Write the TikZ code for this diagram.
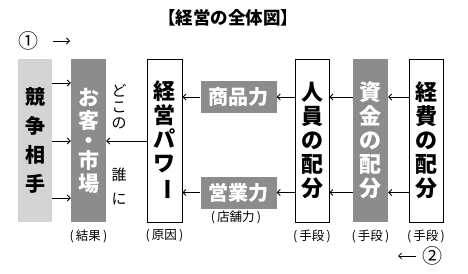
\documentclass[tikz,border=0pt]{standalone}
\usepackage{fontspec}
\newfontfamily\jp{Noto Sans CJK JP}
\usetikzlibrary{arrows.meta}
\definecolor{lightbox}{gray}{0.83}
\definecolor{darkbox}{gray}{0.55}
\tikzset{
  vbox/.style={minimum width=34pt, minimum height=163pt, inner sep=0pt, align=center,
    font=\jp\bfseries\fontsize{22}{24}\selectfont},
  whitebox/.style={vbox, draw=black, line width=0.8pt, fill=white},
  graybox/.style={vbox, fill=darkbox, text=white},
  hbox/.style={minimum width=76pt, minimum height=32pt, inner sep=0pt, fill=darkbox, text=white,
    font=\jp\bfseries\fontsize{20}{24}\selectfont},
  arr/.style={-{Straight Barb[length=3pt,width=6pt]}, line width=0.8pt},
  lbl/.style={font=\jp\fontsize{12.5}{14}\selectfont, inner sep=0pt},
  side/.style={font=\jp\fontsize{15}{16}\selectfont, align=center, inner sep=0pt},
  circnum/.style={font=\jp\fontsize{20}{20}\selectfont, inner sep=0pt},
}
\begin{document}
\begin{tikzpicture}[x=1pt,y=-1pt]
\useasboundingbox (0,0) rectangle (468,273);
\node[font=\jp\bfseries\fontsize{17.5}{20}\selectfont] (title) at (228,18) {【経営の全体図】};
% circled numbers
\node[circnum] (n1) at (28,41) {①};
\coordinate (n1a) at (53,41);
\coordinate (n1b) at (70,41);
\draw[arr] (n1a) -- (n1b);
\node[circnum] (n2) at (432,256) {②};
\coordinate (n2a) at (416,256);
\coordinate (n2b) at (398,256);
\draw[arr] (n2a) -- (n2b);
% boxes
\node[vbox, fill=lightbox, font=\jp\bfseries\fontsize{20}{29}\selectfont] (comp) at (35,140.5) {競\\争\\相\\手};
\node[graybox, minimum width=35pt, font=\jp\bfseries\fontsize{21}{23}\selectfont] (cust) at (88.5,140.5) {お\\客\\[-3pt]・\\[-3pt]市\\場};
\node[whitebox, minimum width=35pt] (power) at (164.5,140.5) {経\\営\\パ\\ワ\\\rotatebox[origin=c]{-90}{ー}};
\node[hbox] (shohin) at (238.5,97) {商品力};
\node[hbox] (eigyo) at (238.5,192.5) {営業力};
\node[whitebox] (jinin) at (312,140.5) {人\\員\\の\\配\\分};
\node[graybox, minimum width=35pt] (shikin) at (370.5,140.5) {資\\金\\の\\配\\分};
\node[whitebox] (keihi) at (426,140.5) {経\\費\\の\\配\\分};
% side texts
\node[side] (doko) at (119,107) {ど\\こ\\の};
\node[side, font=\jp\fontsize{15}{24}\selectfont] (dare) at (119,186) {誰\\に};
% labels
\node[lbl] (kekka) at (88.5,236) {(\,結果\,)};
\node[lbl] (genin) at (164.5,236) {(\,原因\,)};
\node[lbl] (tenpo) at (236,217) {(\,店舗力\,)};
\node[lbl] (sh1) at (312,236) {(\,手段\,)};
\node[lbl] (sh2) at (370.5,236) {(\,手段\,)};
\node[lbl] (sh3) at (426,236) {(\,手段\,)};
% arrows
\foreach \yy in {83,141,198}{
  \draw[arr] (comp.east |- 0,\yy) -- (cust.west |- 0,\yy);
}
\draw[arr] (power.west |- 0,141) -- (cust.east |- 0,141);
\draw[arr] (shohin.west) -- (power.east |- shohin.west);
\draw[arr] (eigyo.west) -- (power.east |- eigyo.west);
\draw[arr] (jinin.west |- shohin.east) -- (shohin.east);
\draw[arr] (jinin.west |- eigyo.east) -- (eigyo.east);
\draw[arr] (shikin.west |- shohin.east) -- (jinin.east |- shohin.east);
\draw[arr] (shikin.west |- eigyo.east) -- (jinin.east |- eigyo.east);
\draw[arr] (keihi.west |- shohin.east) -- (shikin.east |- shohin.east);
\draw[arr] (keihi.west |- eigyo.east) -- (shikin.east |- eigyo.east);
\end{tikzpicture}
\end{document}
